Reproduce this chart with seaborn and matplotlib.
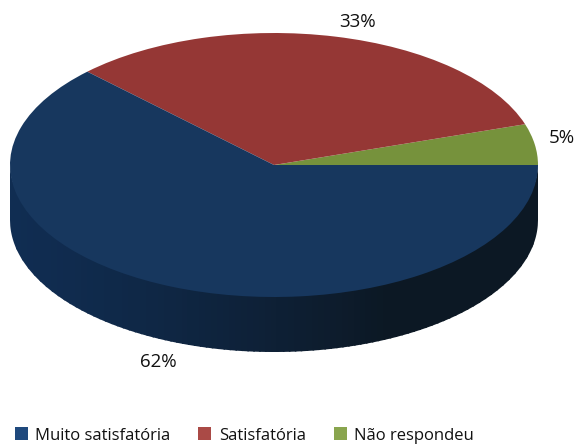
import numpy as np
import matplotlib
matplotlib.use("Agg")
import matplotlib.pyplot as plt
from matplotlib.colors import to_rgb
from matplotlib.patches import Patch
import seaborn as sns

sns.set_theme(style="white")
plt.rcParams['font.family'] = ['Open Sans', 'DejaVu Sans']

categories = ["Muito satisfatória", "Satisfatória", "Não respondeu"]
values = [62.5, 32.5, 5]
labels = ["62%", "33%", "5%"]
top_colors = ["#17375e", "#953735", "#76923c"]
legend_colors = ["#1f497d", "#aa4a46", "#89a54e"]
wall_left = "#102d52"
wall_right = "#0c1824"

W, H = 576, 445
CX, CY, RX, RY, DEPTH = 274, 165, 264, 132, 55

fig = plt.figure(figsize=(W / 100, H / 100), dpi=100)
ax = fig.add_axes([(CX - RX) / W, 1 - (CY + RY) / H, 2 * RX / W, 2 * RY / H])
ax.set_xlim(-1, 1)
ax.set_ylim(-1, 1)
ax.axis("off")

# side wall of the disc, shaded left to right in vertical bands
d = DEPTH / RY
edges = np.linspace(-1, 1, 90)
c0, c1 = np.array(to_rgb(wall_left)), np.array(to_rgb(wall_right))
for i in range(len(edges) - 1):
    hi = min(1.0, edges[i + 1] + 0.006)
    x = np.linspace(edges[i], hi, 30)
    y = -np.sqrt(np.clip(1 - x ** 2, 0, None))
    f = min(1.0, ((x.mean() + 1) / 2) / 0.72) ** 1.3
    col = c0 + (c1 - c0) * f
    ax.fill_between(x, y + 0.02, y - d, facecolor=col, edgecolor="none", lw=0, clip_on=False, zorder=1)

# top face: order runs counterclockwise from the right
order = [2, 1, 0]
wedges, _ = ax.pie([values[i] for i in order], colors=[top_colors[i] for i in order],
                   startangle=0, counterclock=True, radius=1,
                   wedgeprops=dict(lw=0, clip_on=False))
ax.set_aspect("auto")
ax.set_xlim(-1, 1)
ax.set_ylim(-1, 1)
for w in wedges:
    w.set_zorder(2)

# percentage labels
fs = 13.5
for lab, (px, py) in zip(labels, [(158, 362), (358, 22), (562, 138)]):
    fig.text(px / W, 1 - py / H, lab, ha="center", va="center", fontsize=fs, color="#111111")

handles = [Patch(facecolor=c, edgecolor="none", label=n) for c, n in zip(legend_colors, categories)]
fig.legend(handles=handles, loc="center", bbox_to_anchor=(244.5 / W, 1 - 435.5 / H), ncol=3,
           frameon=False, fontsize=12.0, handlelength=0.78, handleheight=0.78,
           handletextpad=0.45, columnspacing=1.68, labelcolor="#111111")

fig.savefig("out.png", dpi=100)
